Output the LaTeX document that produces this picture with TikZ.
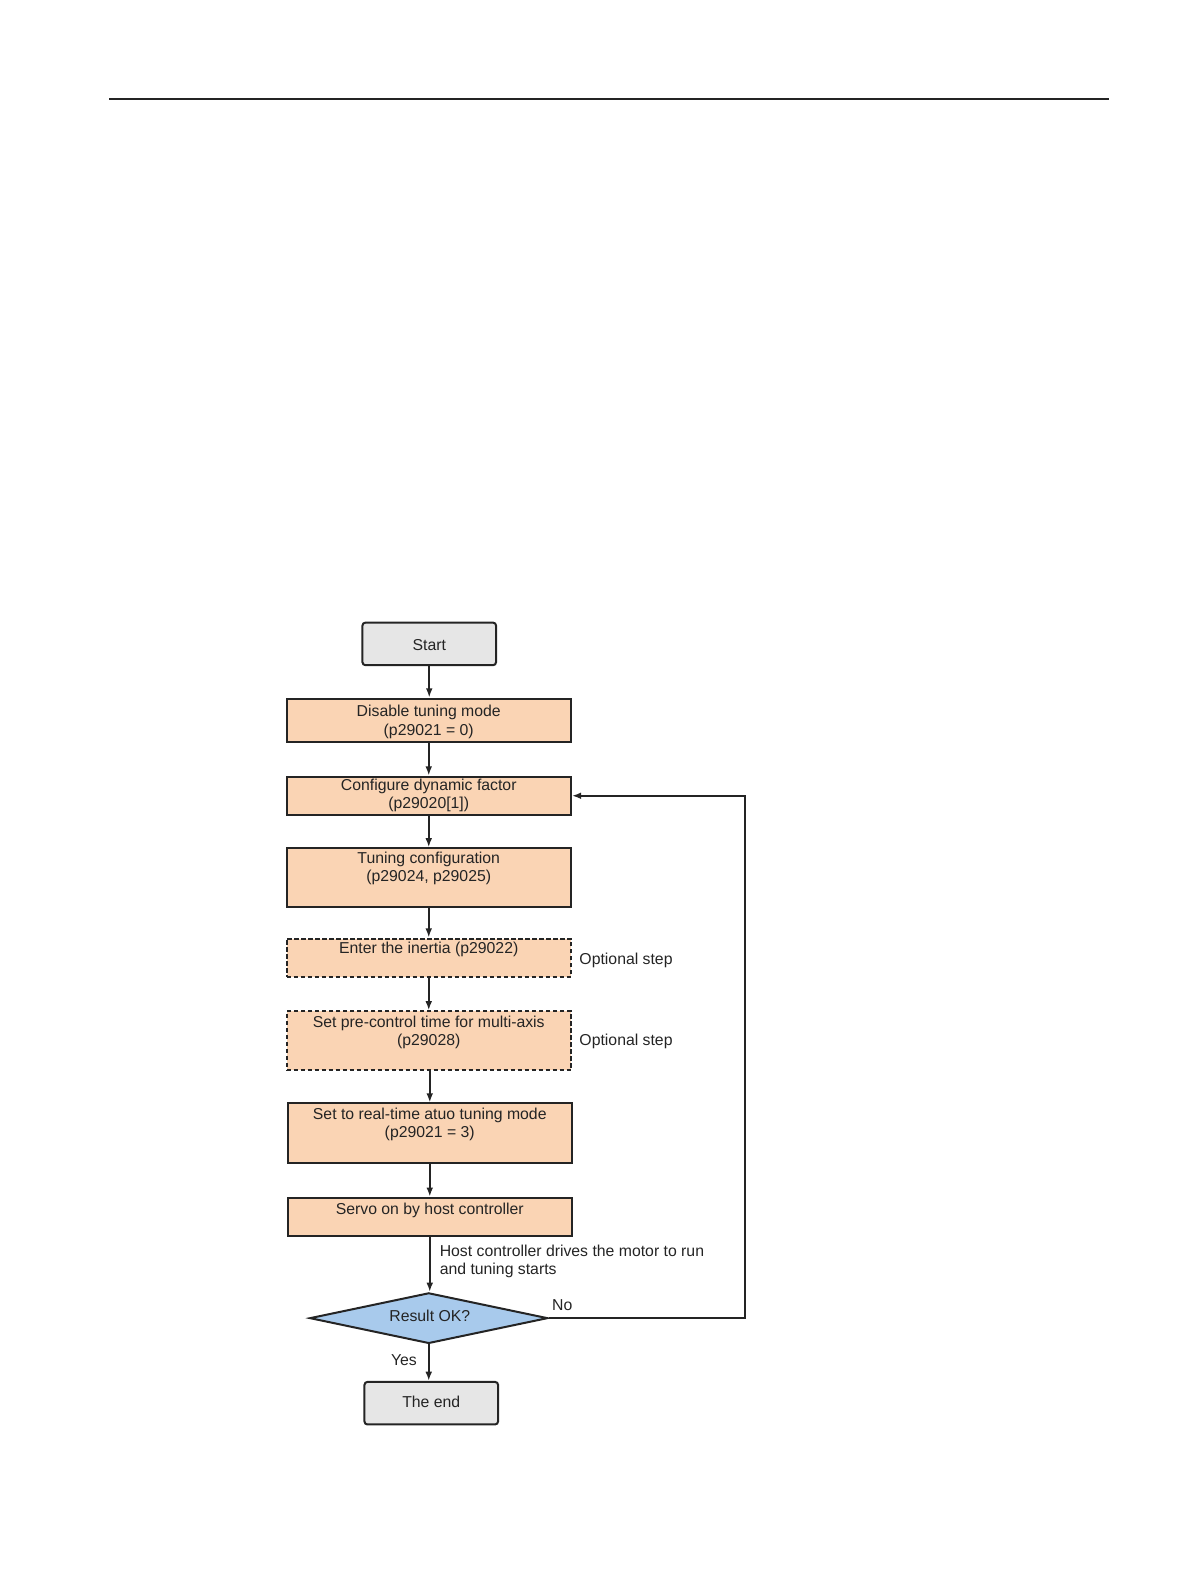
\documentclass[tikz,border=0pt]{standalone}
\usepackage{fontspec}
\setmainfont{Liberation Sans}
\usetikzlibrary{shapes.geometric,arrows.meta}
\definecolor{peach}{HTML}{FAD4B4}
\definecolor{lblue}{HTML}{A8CAEC}
\definecolor{lgray}{HTML}{E6E6E6}
\definecolor{ink}{HTML}{242424}
\begin{document}
\begin{tikzpicture}[x=0.5062pt,y=-0.5062pt,
  txt/.style={font=\fontsize{7.9}{9.1}\selectfont, align=center, inner sep=0pt, text=ink},
  pbox/.style={draw=ink, line width=1pt, fill=peach, minimum width=142.2pt, inner sep=0pt},
  dbox/.style={pbox, dash pattern=on 2.2pt off 1.3pt},
  gbox/.style={draw=ink, line width=1pt, fill=lgray, rounded corners=1.5pt, minimum width=66.8pt, minimum height=21.3pt, inner sep=0pt},
  arr/.style={draw=ink, line width=0.95pt, -{Latex[length=4.6pt,width=3.4pt]}}]
\useasboundingbox (0pt,0pt) rectangle (595.5pt,-793.5pt);
\draw[ink, line width=0.9pt] (108,98) coordinate (hl) -- (1095,98) coordinate (hr);

\node[gbox] (start) at (424,636) {};
\node[txt] (tstart) at (424,637) {Start};

\node[pbox, minimum height=21.8pt] (b1) at (423.5,711.5) {};
\node[txt] (t1) at (423.5,713) {Disable tuning mode\\(p29021 = 0)};

\node[pbox, minimum height=19.2pt] (b2) at (423.5,786) {};
\node[txt] (t2) at (423.5,786) {Configure dynamic factor\\(p29020[1])};

\node[pbox, minimum height=29.4pt] (b3) at (423.5,867) {};
\node[txt] (t3) at (423.5,857.5) {Tuning configuration\\(p29024, p29025)};

\node[dbox, minimum height=19.2pt] (b4) at (423.5,946) {};
\node[txt] (t4) at (423.5,938) {Enter the inertia (p29022)};
\node[txt, anchor=west] (o1) at (572,949) {Optional step};

\node[dbox, minimum height=29.4pt] (b5) at (423.5,1028) {};
\node[txt] (t5) at (423.5,1019.5) {Set pre-control time for multi-axis\\(p29028)};
\node[txt, anchor=west] (o2) at (572,1029) {Optional step};

\node[pbox, minimum height=29.9pt] (b6) at (424.5,1119.5) {};
\node[txt] (t6) at (424.5,1111) {Set to real-time atuo tuning mode\\(p29021 = 3)};

\node[pbox, minimum height=19.2pt] (b7) at (424.5,1202) {};
\node[txt] (t7) at (424.5,1196) {Servo on by host controller};

\node[txt, align=left, anchor=west] (host) at (434,1246) {Host controller drives the motor to run\\and tuning starts};

\node[diamond, draw=ink, line width=1pt, fill=lblue, minimum width=119pt, minimum height=25.3pt, aspect=4.7, inner sep=0pt] (dec) at (423.5,1302) {};
\node[txt] (tdec) at (424.5,1300) {Result OK?};
\node[txt, anchor=west] (no) at (545,1289) {No};
\node[txt] (yes) at (399,1343) {Yes};

\node[gbox] (end) at (426,1386) {};
\node[txt] (tend) at (426,1385) {The end};

\coordinate (lp) at (736,786);

\draw[arr] (start.south) -- (start.south |- b1.north);
\draw[arr] (b1.south) -- (b1.south |- b2.north);
\draw[arr] (b2.south) -- (b2.south |- b3.north);
\draw[arr] (b3.south) -- (b3.south |- b4.north);
\draw[arr] (b4.south) -- (b4.south |- b5.north);
\draw[arr] (b5.south -| b6.south) -- (b6.north);
\draw[arr] (b6.south) -- (b7.north);
\draw[arr] (b7.south) -- (b7.south |- dec.north);
\draw[arr] (dec.south) -- (dec.south |- end.north);
\draw[arr] (dec.east) -| (lp) -- (b2.east);
\end{tikzpicture}
\end{document}
